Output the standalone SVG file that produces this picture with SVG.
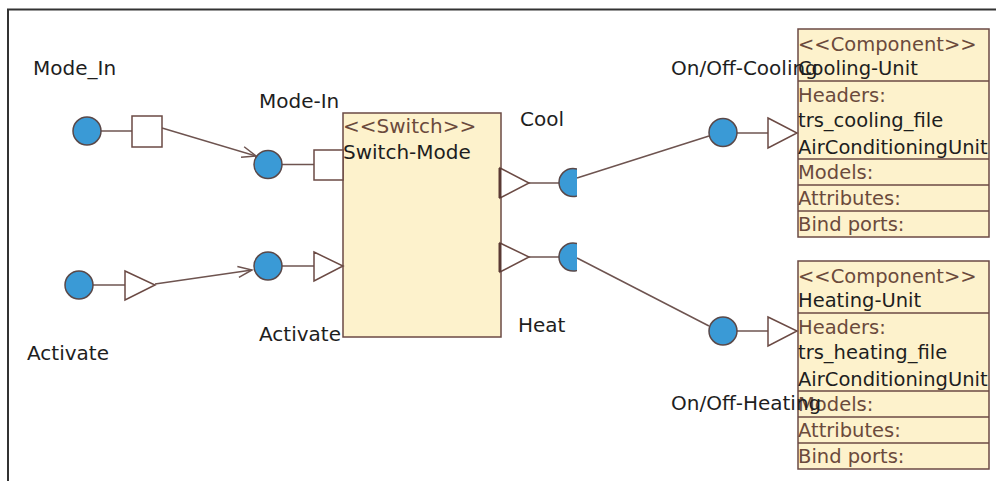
<svg xmlns="http://www.w3.org/2000/svg" width="996" height="481" viewBox="0 0 996 481">
<style>
  text { font-family: "DejaVu Sans", Verdana, sans-serif; font-size: 20px; fill: #1e1e1e; }
  .box text { font-size: 19.5px; }
  .st { fill: #6b4a3c; }
  .port { fill: #3a9ad6; stroke: #5a4848; stroke-width: 1.5; }
  .pin { fill: #ffffff; stroke: #6b4a44; stroke-width: 1.5; }
  .body { fill: #fdf2cc; stroke: #6b4a44; stroke-width: 1.5; }
  .sep { stroke: #6b4a44; stroke-width: 1.5; }
  .wire { stroke: #6e5450; stroke-width: 1.5; fill: none; }
  .bar { stroke: #5a3a34; stroke-width: 3; }
  .frame { stroke: #333333; stroke-width: 2; }
</style>
<defs>
  <marker id="arr" markerWidth="18" markerHeight="14" refX="15" refY="7" orient="auto" markerUnits="userSpaceOnUse">
    <path d="M1,1.5 L15,7 L1,12.5" fill="none" stroke="#6e5450" stroke-width="1.5"/>
  </marker>
  <clipPath id="clipOut"><rect x="540" y="150" width="37" height="140"/></clipPath>
</defs>
<rect x="0" y="0" width="996" height="481" fill="#ffffff"/>
<line class="frame" x1="7" y1="9.5" x2="996" y2="9.5"/>
<line class="frame" x1="8" y1="9" x2="8" y2="481"/>

<g id="connectors">
  <line class="wire" x1="162" y1="128" x2="256" y2="156" marker-end="url(#arr)"/>
  <line class="wire" x1="155" y1="284" x2="252" y2="270" marker-end="url(#arr)"/>
  <line class="wire" x1="577" y1="178" x2="709" y2="136"/>
  <line class="wire" x1="577" y1="258" x2="709" y2="326"/>
</g>

<g id="port-mode-in-outer">
  <line class="wire" x1="87" y1="131" x2="132" y2="131"/>
  <circle class="port" cx="87" cy="131" r="14"/>
  <rect class="pin" x="132" y="116" width="30" height="31"/>
  <text x="33" y="75">Mode_In</text>
</g>

<g id="port-activate-outer">
  <line class="wire" x1="79" y1="285" x2="125" y2="285"/>
  <circle class="port" cx="79" cy="285" r="14"/>
  <polygon class="pin" points="125,271 155,285 125,300"/>
  <text x="27" y="360">Activate</text>
</g>

<g id="switch-mode">
  <rect class="body" x="343" y="113" width="158" height="224"/>
  <text class="st" x="343" y="133">&lt;&lt;Switch&gt;&gt;</text>
  <text x="343" y="159">Switch-Mode</text>
</g>

<g id="port-mode-in">
  <line class="wire" x1="268" y1="164.5" x2="314" y2="164.5"/>
  <circle class="port" cx="268" cy="164.5" r="14"/>
  <rect class="pin" x="314" y="150" width="29" height="30"/>
  <text x="259" y="108">Mode-In</text>
</g>

<g id="port-activate">
  <line class="wire" x1="268" y1="266" x2="314" y2="266"/>
  <circle class="port" cx="268" cy="266" r="14"/>
  <polygon class="pin" points="314,252 343,266 314,281"/>
  <text x="259" y="341">Activate</text>
</g>

<g id="port-cool">
  <line class="wire" x1="529" y1="183" x2="560" y2="183"/>
  <polygon class="pin" points="500,168 529,183 500,198"/>
  <line class="bar" x1="500" y1="168" x2="500" y2="198"/>
  <circle class="port" cx="573" cy="182.5" r="14" clip-path="url(#clipOut)"/>
  <text x="520" y="126">Cool</text>
</g>

<g id="port-heat">
  <line class="wire" x1="529" y1="257" x2="560" y2="257"/>
  <polygon class="pin" points="500,243 529,257 500,272"/>
  <line class="bar" x1="500" y1="243" x2="500" y2="272"/>
  <circle class="port" cx="573" cy="257" r="14" clip-path="url(#clipOut)"/>
  <text x="518" y="332">Heat</text>
</g>

<g id="cooling-unit" class="box">
  <rect class="body" x="798" y="29" width="191" height="208"/>
  <line class="sep" x1="798" y1="81" x2="989" y2="81"/>
  <line class="sep" x1="798" y1="159" x2="989" y2="159"/>
  <line class="sep" x1="798" y1="185" x2="989" y2="185"/>
  <line class="sep" x1="798" y1="211" x2="989" y2="211"/>
  <text class="st" x="798" y="51">&lt;&lt;Component&gt;&gt;</text>
  <text x="798" y="75">Cooling-Unit</text>
  <text class="st" x="798" y="102">Headers:</text>
  <text x="798" y="127">trs_cooling_file</text>
  <text x="798" y="154">AirConditioningUnit</text>
  <text class="st" x="798" y="179">Models:</text>
  <text class="st" x="798" y="205">Attributes:</text>
  <text class="st" x="798" y="231">Bind ports:</text>
</g>

<g id="heating-unit" class="box">
  <rect class="body" x="798" y="261" width="191" height="208"/>
  <line class="sep" x1="798" y1="313" x2="989" y2="313"/>
  <line class="sep" x1="798" y1="391" x2="989" y2="391"/>
  <line class="sep" x1="798" y1="417" x2="989" y2="417"/>
  <line class="sep" x1="798" y1="443" x2="989" y2="443"/>
  <text class="st" x="798" y="283">&lt;&lt;Component&gt;&gt;</text>
  <text x="798" y="307">Heating-Unit</text>
  <text class="st" x="798" y="334">Headers:</text>
  <text x="798" y="359">trs_heating_file</text>
  <text x="798" y="386">AirConditioningUnit</text>
  <text class="st" x="798" y="411">Models:</text>
  <text class="st" x="798" y="437">Attributes:</text>
  <text class="st" x="798" y="463">Bind ports:</text>
</g>

<g id="port-onoff-cooling">
  <line class="wire" x1="723" y1="133" x2="768" y2="133"/>
  <circle class="port" cx="723" cy="132.5" r="14"/>
  <polygon class="pin" points="768,118 797,133 768,148"/>
  <text x="671" y="75">On/Off-Cooling</text>
</g>

<g id="port-onoff-heating">
  <line class="wire" x1="723" y1="331" x2="768" y2="331"/>
  <circle class="port" cx="723" cy="331" r="14"/>
  <polygon class="pin" points="768,317 797,331 768,346"/>
  <text x="671" y="410">On/Off-Heating</text>
</g>
</svg>
